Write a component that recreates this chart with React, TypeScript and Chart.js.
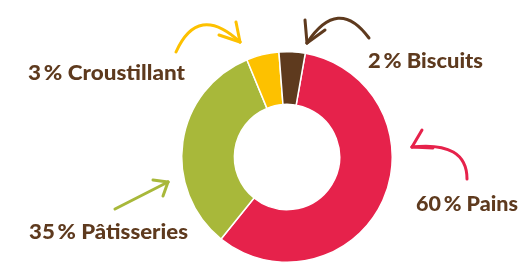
import React, { useEffect, useRef } from "react";
import { Chart, registerables } from "chart.js";

Chart.register(...registerables);

// Categories in drawing order (clockwise from just right of the top)
const categories = ["Pains", "Pâtisseries", "Croustillant", "Biscuits"];
// Slice sizes as drawn in the picture (arc proportions)
const sliceValues = [58, 33, 5, 4];
// Percentages printed in the labels
const labelPercents = [60, 35, 3, 2];
const sliceColors = ["#E6224B", "#A8B83A", "#FDC100", "#5E3A1E"];

const TEXT_COLOR = "#5E3A1E";

// label anchor (left x, baseline y, target width) per category
const labelPos: Record<string, [number, number, number]> = {
  Pains: [416, 211, 102],
  "Pâtisseries": [29, 239, 159],
  Croustillant: [28, 80, 157],
  Biscuits: [368, 68, 115],
};

type Pt = [number, number];
const arrows: { color: string; start: Pt; ctrl: Pt | null; tip: Pt; legs: Pt[] }[] = [
  { color: "#FDC100", start: [176, 52], ctrl: [198, 3], tip: [240, 42], legs: [[236, 22], [219, 35]] },
  { color: "#5E3A1E", start: [369, 38], ctrl: [338, -4], tip: [307, 43], legs: [[305, 20], [325, 30]] },
  { color: "#E6224B", start: [467, 179], ctrl: [467, 141], tip: [412, 147], legs: [[422, 130], [433, 148]] },
  { color: "#A8B83A", start: [115, 209], ctrl: null, tip: [168, 182], legs: [[153, 180], [163, 196]] },
];

const decorPlugin = {
  id: "decor",
  afterDraw(chart: any) {
    const ctx = chart.ctx as CanvasRenderingContext2D;
    ctx.save();
    ctx.lineWidth = 3;
    ctx.lineCap = "round";
    ctx.lineJoin = "round";
    for (const a of arrows) {
      ctx.strokeStyle = a.color;
      ctx.beginPath();
      ctx.moveTo(a.start[0], a.start[1]);
      if (a.ctrl) ctx.quadraticCurveTo(a.ctrl[0], a.ctrl[1], a.tip[0], a.tip[1]);
      else ctx.lineTo(a.tip[0], a.tip[1]);
      ctx.stroke();
      for (const l of a.legs) {
        ctx.beginPath();
        ctx.moveTo(a.tip[0], a.tip[1]);
        ctx.lineTo(l[0], l[1]);
        ctx.stroke();
      }
    }
    ctx.fillStyle = TEXT_COLOR;
    ctx.font = "900 21px Lato, 'Open Sans', sans-serif";
    ctx.textAlign = "left";
    ctx.textBaseline = "alphabetic";
    categories.forEach((c, i) => {
      const [x, y, w] = labelPos[c];
      const txt = `${labelPercents[i]}\u2009% ${c}`;
      const m = ctx.measureText(txt).width;
      ctx.save();
      ctx.translate(x, y);
      ctx.scale(w / m, 1);
      ctx.fillText(txt, 0, 0);
      ctx.restore();
    });
    ctx.restore();
  },
};

export default function App() {
  const ref = useRef<HTMLCanvasElement | null>(null);
  useEffect(() => {
    if (!ref.current) return;
    const chart = new Chart(ref.current, {
      type: "doughnut",
      data: {
        labels: categories,
        datasets: [
          {
            data: sliceValues,
            backgroundColor: sliceColors,
            borderColor: "#ffffff",
            borderWidth: 1.5,
          },
        ],
      },
      options: {
        responsive: false,
        animation: false,
        rotation: 10,
        cutout: "50%",
        layout: { padding: { top: 51, bottom: 0, left: 51, right: 0 } },
        plugins: { legend: { display: false }, tooltip: { enabled: false } },
      },
      plugins: [decorPlugin],
    });
    return () => chart.destroy();
  }, []);
  return (
    <div style={{ position: "fixed", left: 0, top: 0, width: 523, height: 263, background: "#fff" }}>
      <canvas ref={ref} width={523} height={263} style={{ display: "block" }} />
    </div>
  );
}
